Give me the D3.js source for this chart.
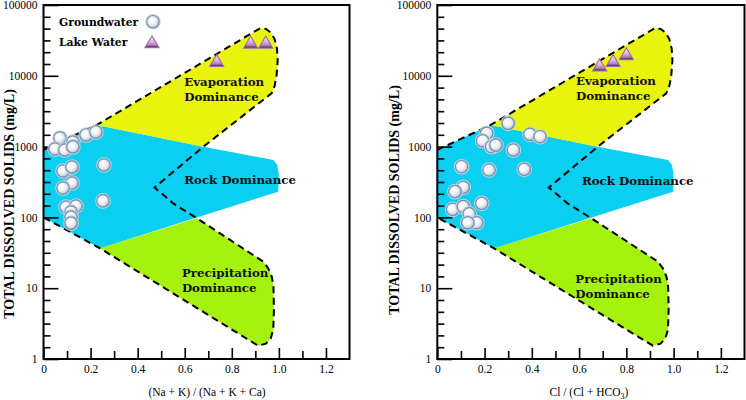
<!DOCTYPE html>
<html><head><meta charset="utf-8">
<script src="https://cdn.jsdelivr.net/npm/d3@7"></script>
<style>body{margin:0;background:#fff} svg{display:block}</style>
</head><body>
<svg id="c" width="746" height="400"></svg>
<script>
// ---------- data ----------
const xTickValues = [0, 0.2, 0.4, 0.6, 0.8, 1.0, 1.2];
const xTickLabels = ["0", "0.2", "0.4", "0.6", "0.8", "1.0", "1.2"];
const xMinorValues = [0.1, 0.3, 0.5, 0.7, 0.9, 1.1];
const yTickValues = [1, 10, 100, 1000, 10000, 100000];
const yTickLabels = ["1", "10", "100", "1000", "10000", "100000"];

// Panel 1: (Na + K) / (Na + K + Ca)
const gwRatioNa = [0.070, 0.125, 0.181, 0.223, 0.049, 0.091, 0.125, 0.083, 0.121, 0.257, 0.121, 0.083, 0.253, 0.096, 0.138, 0.117, 0.117, 0.117];
const gwTdsNa   = [1320, 1160, 1460, 1610, 925, 895, 990, 452, 515, 550, 306, 260, 171, 140, 145, 119, 101, 83];
const lakeRatioNa = [0.736, 0.880, 0.944];
const lakeTdsNa   = [15800, 28800, 28800];

// Panel 2: Cl / (Cl + HCO3)
const gwRatioCl = [0.300, 0.209, 0.192, 0.230, 0.248, 0.392, 0.435, 0.322, 0.103, 0.219, 0.368, 0.110, 0.075, 0.188, 0.065, 0.110, 0.135, 0.167, 0.129];
const gwTdsCl   = [2130, 1540, 1210, 997, 1050, 1490, 1380, 895, 520, 467, 478, 266, 231, 158, 130, 142, 112, 84, 84];
const lakeRatioCl = [0.687, 0.744, 0.800];
const lakeTdsCl   = [13700, 15800, 19700];

// Gibbs boundary (ratio, TDS)
const gibbsDashed = [[0, 900], [0.226, 2020], [0.92, 46900], [0.945, 46000], [0.965, 41000], [0.982, 33000], [0.992, 24000], [0.995, 16700], [0.99, 10000], [0.982, 7200], [0.969, 5660], [0.679, 997], [0.472, 264], [0.551, 158], [0.651, 97.5], [0.934, 23.7], [0.955, 19], [0.97, 14.5], [0.977, 10.5], [0.979, 4.9], [0.976, 2.57], [0.965, 1.95], [0.945, 1.65], [0.912, 1.54], [0.24, 36.6], [0, 100]];
const evaporationZone = [[0.226, 2020], [0.92, 46900], [0.945, 46000], [0.965, 41000], [0.982, 33000], [0.992, 24000], [0.995, 16700], [0.99, 10000], [0.982, 7200], [0.969, 5660], [0.679, 997]];
const rockZone = [[0, 900], [0.226, 2020], [0.679, 997], [0.976, 646], [0.992, 560], [0.999, 430], [1.0, 337], [0.997, 231], [0.24, 36.6], [0, 100]];
const precipitationZone = [[0.24, 36.6], [0.651, 97.5], [0.934, 23.7], [0.955, 19], [0.97, 14.5], [0.977, 10.5], [0.979, 4.9], [0.976, 2.57], [0.965, 1.95], [0.945, 1.65], [0.912, 1.54]];

const zoneNames = [["Evaporation", "Dominance"], ["Rock Dominance"], ["Precipitation", "Dominance"]];
const legendNames = ["Groundwater", "Lake Water"];
const xTitles = [["(Na + K) / (Na + K + Ca)"], ["Cl / (Cl + HCO", "3", ")"]];
const yTitle = "TOTAL DISSOLVED SOLIDS (mg/L)";

// ---------- drawing ----------
const svg = d3.select("#c");
svg.append("rect").attr("width", 746).attr("height", 400).attr("fill", "#fff");
const defs = svg.append("defs");
const rg = defs.append("radialGradient").attr("id", "ball").attr("cx", "42%").attr("cy", "40%").attr("r", "62%");
[[0, "#ffffff"], [0.45, "#f2f4f7"], [0.8, "#cdd3db"], [1, "#98a4b3"]].forEach(s => rg.append("stop").attr("offset", s[0]).attr("stop-color", s[1]));
const tg = defs.append("linearGradient").attr("id", "tri").attr("x1", 0).attr("y1", 0).attr("x2", 0).attr("y2", 1);
[[0, "#f8e8f8"], [0.5, "#dcb0e2"], [0.78, "#b27cbb"], [0.9, "#6d3f74"], [1, "#3b1e3e"]].forEach(s => tg.append("stop").attr("offset", s[0]).attr("stop-color", s[1]));

const COL_Y = "#e8f40c", COL_B = "#0bcff0", COL_G = "#a4f10e";
const serif = "'Liberation Serif', 'Times New Roman', serif";
const slab = "'DejaVu Serif', serif";

function drawBall(g, cx, cy) {
  g.append("circle").attr("cx", cx).attr("cy", cy).attr("r", 7.2).attr("fill", "none").attr("stroke", "#c5d3e0").attr("stroke-width", 1.2);
  g.append("circle").attr("cx", cx).attr("cy", cy).attr("r", 6.2).attr("fill", "url(#ball)").attr("stroke", "#7494b3").attr("stroke-width", 1.2);
}
function drawTri(g, cx, cy) {
  const h = 12, w = 14;
  g.append("path").attr("d", `M${cx},${cy - h * 0.6}L${cx + w / 2},${cy + h * 0.4}L${cx - w / 2},${cy + h * 0.4}Z`)
    .attr("fill", "url(#tri)").attr("stroke", "#a066ac").attr("stroke-width", 1.1);
}

function panel(cfg) {
  const x = d3.scaleLinear().domain([0, 1.3]).range([cfg.left, cfg.right]);
  const y = d3.scaleLog().domain([1, 100000]).range([359, 5]);
  const g = svg.append("g");
  const line = d3.line().x(d => x(d[0])).y(d => y(d[1]));

  g.append("path").attr("d", line(precipitationZone) + "Z").attr("fill", COL_G);
  g.append("path").attr("d", line(rockZone) + "Z").attr("fill", COL_B);
  g.append("path").attr("d", line(evaporationZone) + "Z").attr("fill", COL_Y);
  g.append("path").attr("d", line(gibbsDashed)).attr("fill", "none").attr("stroke", "#000")
    .attr("stroke-width", 2).attr("stroke-dasharray", "7,4.5");

  // zone labels
  cfg.labels.forEach((lb, i) => {
    const t = g.append("text").attr("x", x(lb[0])).attr("y", y(lb[1]))
      .attr("font-family", slab).attr("font-weight", "bold").attr("font-size", 11.8).attr("fill", "#111");
    zoneNames[i].forEach((s, j) => t.append("tspan").attr("x", x(lb[0])).attr("dy", j ? 15 : 0).text(s));
  });

  // axes
  const minorY = [];
  for (let k = 0; k < 5; k++) for (let i = 1; i < 6; i++) minorY.push(Math.pow(10, k + i / 6));
  const ay = g.append("g").attr("transform", `translate(${cfg.left},0)`)
    .call(d3.axisLeft(y).tickValues(yTickValues).tickFormat((d, i) => yTickLabels[i]).tickSize(-15).tickPadding(6));
  const ayMinor = g.append("g").attr("transform", `translate(${cfg.left},0)`)
    .call(d3.axisLeft(y).tickValues(minorY).tickFormat("").tickSize(-7));
  const ax = g.append("g").attr("transform", "translate(0,359)")
    .call(d3.axisBottom(x).tickValues(xTickValues).tickFormat((d, i) => xTickLabels[i]).tickSize(-11).tickPadding(6));
  const axMinor = g.append("g").attr("transform", "translate(0,359)")
    .call(d3.axisBottom(x).tickValues(xMinorValues).tickFormat("").tickSize(-8));
  [ay, ayMinor, ax, axMinor].forEach(a => {
    a.select(".domain").remove();
    a.selectAll("line").attr("stroke", "#000").attr("stroke-width", 1.6);
    a.selectAll("text").attr("font-family", serif).attr("font-size", 11.5).attr("fill", "#000");
  });

  // frame
  g.append("rect").attr("x", cfg.left).attr("y", 5).attr("width", cfg.right - cfg.left).attr("height", 354)
    .attr("fill", "none").attr("stroke", "#000").attr("stroke-width", 2);

  // points
  cfg.gwX.forEach((v, i) => drawBall(g, x(v), y(cfg.gwY[i])));
  cfg.lkX.forEach((v, i) => drawTri(g, x(v), y(cfg.lkY[i])));

  // titles
  g.append("text").attr("transform", `translate(${cfg.yTitleX},${cfg.yTitleY}) rotate(-90)`)
    .attr("text-anchor", "middle").attr("font-family", serif).attr("font-weight", "bold").attr("font-size", 14).text(yTitle);
  const xt = g.append("text").attr("x", cfg.xTitleX).attr("y", 396).attr("text-anchor", "middle")
    .attr("font-family", serif).attr("font-size", 11.5);
  cfg.xTitle.forEach((s, j) => {
    const sp = xt.append("tspan").text(s);
    if (j === 1) sp.attr("font-size", 8).attr("dy", 3);
    if (j === 2) sp.attr("dy", -3);
  });
  return { x, y, g };
}

const p1 = panel({ left: 43.5, right: 349.5, gwX: gwRatioNa, gwY: gwTdsNa, lkX: lakeRatioNa, lkY: lakeTdsNa,
  labels: [[0.598, 7180], [0.598, 296], [0.588, 14.6]], yTitleX: 13.5, yTitleY: 204, xTitleX: 207, xTitle: xTitles[0] });
const p2 = panel({ left: 437.3, right: 744.5, gwX: gwRatioCl, gwY: gwTdsCl, lkX: lakeRatioCl, lkY: lakeTdsCl,
  labels: [[0.587, 7400], [0.612, 287], [0.584, 11.7]], yTitleX: 398.5, yTitleY: 200, xTitleX: 589, xTitle: xTitles[1] });

// legend (left panel)
const lg = p1.g.append("g");
lg.append("text").attr("x", 59).attr("y", 25.5).attr("font-family", slab).attr("font-weight", "bold").attr("font-size", 10.8).text(legendNames[0]);
lg.append("text").attr("x", 59).attr("y", 45.5).attr("font-family", slab).attr("font-weight", "bold").attr("font-size", 10.8).text(legendNames[1]);
drawBall(lg, 153, 21.7);
drawTri(lg, 152, 43);
</script>
</body></html>
